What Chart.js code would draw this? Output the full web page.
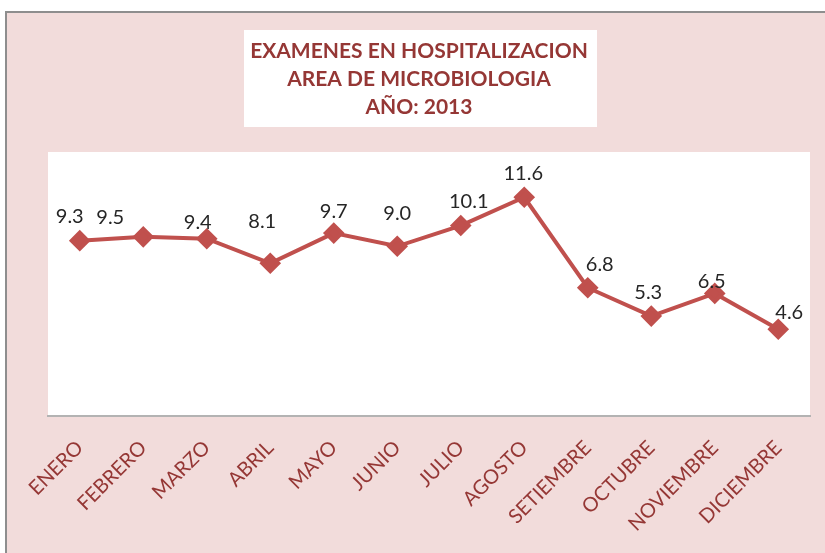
<!DOCTYPE html>
<html>
<head>
<meta charset="utf-8">
<script src="https://cdn.jsdelivr.net/npm/chart.js@4/dist/chart.umd.min.js"></script>
<style>
  body { margin: 0; background: #fff; }
  #frame {
    position: absolute; left: 5px; top: 11px; width: 830px; height: 560px;
    background: #f2dcdb; border-left: 2px solid #8e8e8e; border-top: 2px solid #8e8e8e;
  }
  #wrap { position: absolute; left: 0; top: 0; width: 825px; height: 553px; }
</style>
</head>
<body>
<div id="frame"></div>
<div id="wrap"><canvas id="chart" width="825" height="553"></canvas></div>
<script>
const months = ["ENERO", "FEBRERO", "MARZO", "ABRIL", "MAYO", "JUNIO", "JULIO",
  "AGOSTO", "SETIEMBRE", "OCTUBRE", "NOVIEMBRE", "DICIEMBRE"];
const examenes = [9.3, 9.5, 9.4, 8.1, 9.7, 9.0, 10.1, 11.6, 6.8, 5.3, 6.5, 4.6];
const titleLines = ["EXAMENES EN HOSPITALIZACION", "AREA DE MICROBIOLOGIA", "AÑO: 2013"];

// label nudges (dx, dy) from each point, like the hand-moved labels of the original
const labelNudge = [[-10, -24], [-33, -19], [-9, -16], [-8, -42], [0, -22], [0, -33],
  [8, -24], [-1, -24], [12, -23], [-3, -24], [-3, -12], [11, -17]];

const chartBits = {
  id: "chartBits",
  beforeDraw(chart) {
    const { ctx, chartArea: a } = chart;
    ctx.save();
    ctx.fillStyle = "#fff";
    ctx.fillRect(a.left, a.top, a.right - a.left, a.bottom - a.top);
    // title box
    ctx.fillRect(244, 30, 353, 97);
    ctx.fillStyle = "#953735";
    ctx.font = "bold 21px Lato";
    ctx.textAlign = "center";
    ctx.textBaseline = "middle";
    titleLines.forEach((t, i) => ctx.fillText(t, 419, 51 + i * 28));
    ctx.restore();
  },
  afterDatasetsDraw(chart) {
    const { ctx } = chart;
    const meta = chart.getDatasetMeta(0);
    ctx.save();
    ctx.fillStyle = "#262626";
    ctx.font = "20px Lato";
    ctx.textAlign = "center";
    ctx.textBaseline = "middle";
    meta.data.forEach((pt, i) => {
      const n = labelNudge[i];
      ctx.fillText(examenes[i].toFixed(1), pt.x + n[0], pt.y + n[1]);
    });
    ctx.restore();
  },
};

new Chart(document.getElementById("chart"), {
  type: "line",
  data: {
    labels: months,
    datasets: [
      {
        data: examenes,
        borderColor: "#c0504d",
        backgroundColor: "#c0504d",
        borderWidth: 4,
        pointStyle: "rectRot",
        pointRadius: 8,
        pointHoverRadius: 8,
        tension: 0,
      },
    ],
  },
  options: {
    responsive: false,
    animation: false,
    layout: { padding: { left: 48, right: 15, top: 152, bottom: 0 } },
    plugins: { legend: { display: false }, tooltip: { enabled: false } },
    scales: {
      x: {
        offset: true,
        grid: { display: false },
        border: { display: true, color: "#b3b3b3", width: 2 },
        afterFit(scale) { scale.height = 137; },
        ticks: {
          color: "#953735",
          font: { family: "Lato", size: 20 },
          maxRotation: 45,
          minRotation: 45,
          padding: 12,
          autoSkip: false,
        },
      },
      y: { display: false, min: 0, max: 14 },
    },
  },
  plugins: [chartBits],
});
</script>
</body>
</html>
